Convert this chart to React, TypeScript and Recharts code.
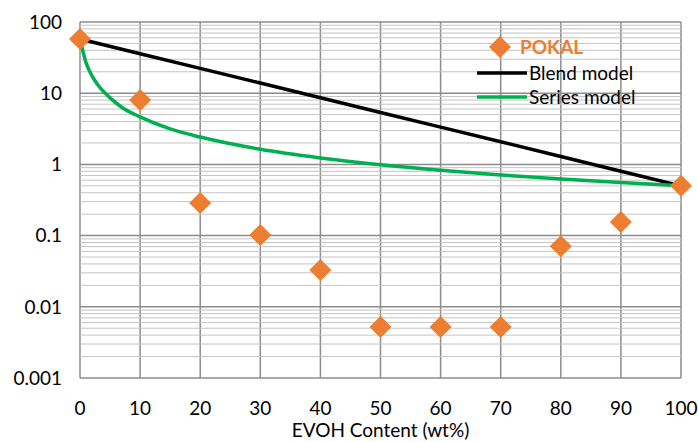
import React from 'react';
import { ComposedChart, Line, Scatter, XAxis, YAxis, CartesianGrid, ReferenceLine } from 'recharts';

const pokalX = [0, 10, 20, 30, 40, 50, 60, 70, 80, 90, 100];
const pokalY = [57.7, 8.0, 0.287, 0.102, 0.033, 0.0052, 0.0052, 0.0052, 0.071, 0.155, 0.5];

const blendX = [0, 10, 20, 30, 40, 50, 60, 70, 80, 90, 100];
const blendY = [57.7, 35.9, 22.3, 13.9, 8.63, 5.37, 3.34, 2.08, 1.29, 0.8, 0.5];

const seriesX = [0, 1, 2, 3, 5, 7, 10, 15, 20, 30, 40, 50, 60, 70, 80, 90, 100];
const seriesY = [57.7, 26.9, 17.5, 13.0, 8.59, 6.3, 4.64, 3.15, 2.42, 1.63, 1.234, 0.991, 0.829, 0.712, 0.624, 0.555, 0.5];

const xTicks = [0, 10, 20, 30, 40, 50, 60, 70, 80, 90, 100];
const yTicks = [0.001, 0.01, 0.1, 1, 10, 100];
const yTickLabels = ['0.001', '0.01', '0.1', '1', '10', '100'];
const minorMultipliers = [2, 3, 4, 5, 6, 7, 8, 9];

const pokalData = pokalX.map((x, i) => ({ x, y: pokalY[i] }));
const blendData = blendX.map((x, i) => ({ x, y: blendY[i] }));
const seriesData = seriesX.map((x, i) => ({ x, y: seriesY[i] }));
const minorValues: number[] = [];
yTicks.slice(0, -1).forEach((d) => minorMultipliers.forEach((m) => minorValues.push(+(d * m).toPrecision(3))));

const ORANGE = '#ED7D31';
const GREEN = '#00B050';
const FONT = 'Lato, "Liberation Sans", sans-serif';

const Diamond = (props: any) => {
  const { cx, cy } = props;
  if (cx == null || cy == null) return null;
  const r = 11;
  return <polygon points={`${cx},${cy - r} ${cx + r},${cy} ${cx},${cy + r} ${cx - r},${cy}`} fill={ORANGE} />;
};

const LegendBox = () => (
  <svg width={220} height={90} style={{ position: 'absolute', left: 470, top: 25, overflow: 'visible' }}>
    <polygon points="30,11 41,22 30,33 19,22" fill={ORANGE} />
    <text x={50} y={29} fill={ORANGE} fontSize={19} fontWeight="bold" fontFamily={FONT}>POKAL</text>
    <line x1={7} y1={48} x2={57} y2={48} stroke="#000" strokeWidth={3.5} />
    <text x={59} y={55} fill="#000" fontSize={19} fontFamily={FONT}>Blend model</text>
    <line x1={7} y1={72} x2={57} y2={72} stroke={GREEN} strokeWidth={3.5} />
    <text x={59} y={79} fill="#000" fontSize={19} fontFamily={FONT}>Series model</text>
  </svg>
);

export default function App() {
  return (
    <div style={{ position: 'absolute', left: 0, top: 0, width: 698, height: 442, background: '#fff' }}>
      <ComposedChart width={698} height={442} margin={{ top: 22, right: 17, left: 0, bottom: 0 }}>
        {minorValues.map((v) => (
          <ReferenceLine key={'m' + v} y={v} stroke="#c4c4c4" strokeWidth={1} ifOverflow="hidden" />
        ))}
        <CartesianGrid stroke="#8c8c8c" strokeWidth={1.5} />
        <XAxis
          type="number"
          dataKey="x"
          domain={[0, 100]}
          ticks={xTicks}
          axisLine={false}
          tickLine={false}
          tickSize={0}
          tickMargin={24}
          height={64}
          tick={{ fill: '#000', fontSize: 19, fontFamily: FONT }}
          label={{ value: 'EVOH Content (wt%)', position: 'insideBottom', offset: 5, fill: '#000', fontSize: 19, fontFamily: FONT }}
        />
        <YAxis
          type="number"
          dataKey="y"
          scale="log"
          domain={[0.001, 100]}
          ticks={yTicks}
          tickFormatter={(v: number) => yTickLabels[yTicks.indexOf(v)] ?? String(v)}
          axisLine={false}
          tickLine={false}
          tickSize={0}
          tickMargin={18}
          width={80}
          tick={{ fill: '#000', fontSize: 19, fontFamily: FONT }}
        />
        <Line data={blendData} dataKey="y" type="linear" stroke="#000" strokeWidth={3.5} dot={false} isAnimationActive={false} name="Blend model" />
        <Line data={seriesData} dataKey="y" type="monotone" stroke={GREEN} strokeWidth={3.5} dot={false} isAnimationActive={false} name="Series model" />
        <Scatter data={pokalData} dataKey="y" shape={<Diamond />} isAnimationActive={false} name="POKAL" />
      </ComposedChart>
      <LegendBox />
    </div>
  );
}
